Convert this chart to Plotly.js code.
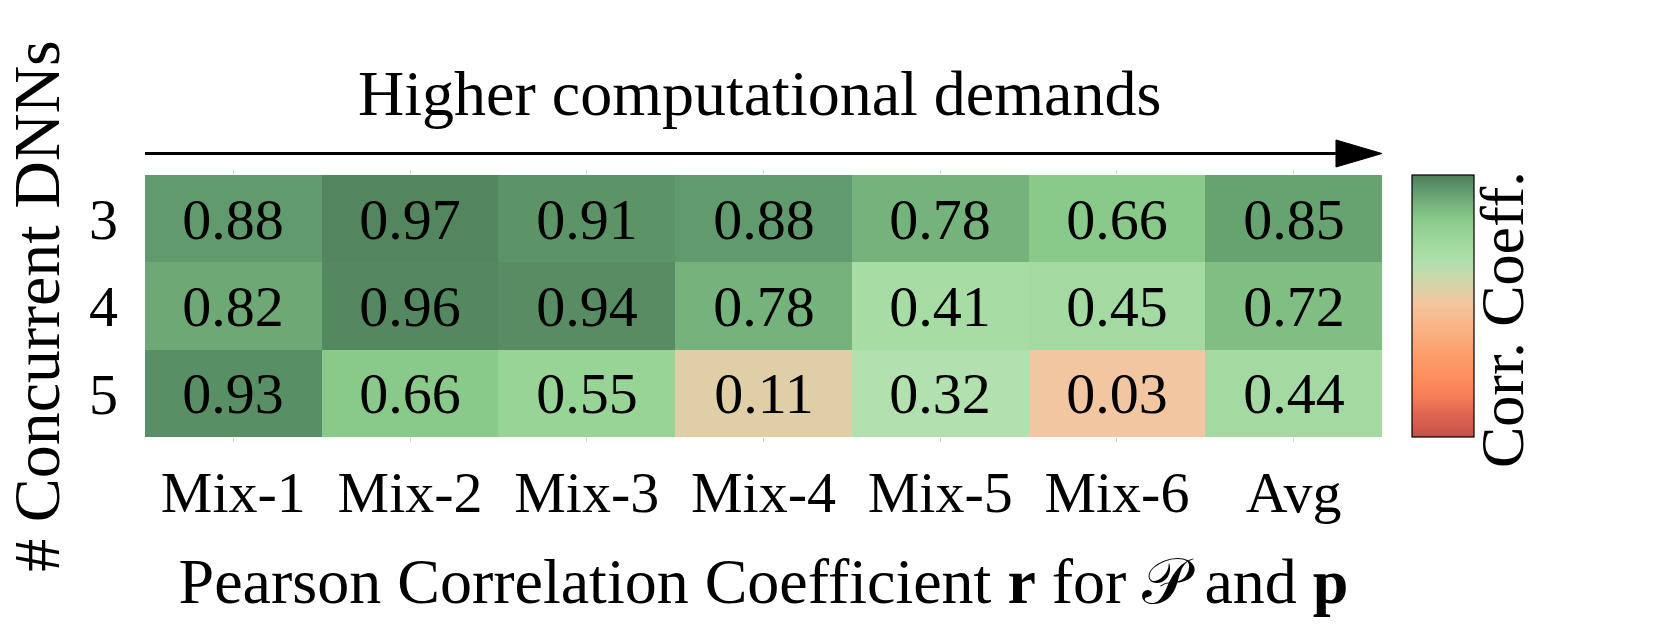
<!DOCTYPE html>
<html>
<head>
<meta charset="utf-8">
<script src="https://cdn.plot.ly/plotly-3.0.1.min.js"></script>
<style>html,body{margin:0;padding:0;background:#fff;}#chart{width:1660px;height:626px;}</style>
</head>
<body>
<div id="chart"></div>
<script>
// ---- data ----
const mixes = ["Mix-1", "Mix-2", "Mix-3", "Mix-4", "Mix-5", "Mix-6", "Avg"];
const dnnCounts = ["3", "4", "5"];
const row3 = [0.88, 0.97, 0.91, 0.88, 0.78, 0.66, 0.85];
const row4 = [0.82, 0.96, 0.94, 0.78, 0.41, 0.45, 0.72];
const row5 = [0.93, 0.66, 0.55, 0.11, 0.32, 0.03, 0.44];
const corrValues = [row3, row4, row5];

const colorscale = [
  [0.00, "#c4524a"],
  [0.08, "#dc6450"],
  [0.15, "#f47c56"],
  [0.22, "#fd8d5c"],
  [0.32, "#fca06c"],
  [0.42, "#f9b486"],
  [0.50, "#f4c49c"],
  [0.515, "#f2c6a0"],
  [0.555, "#e0cfa6"],
  [0.62, "#c4dbac"],
  [0.66, "#b2e0ae"],
  [0.705, "#a8dca5"],
  [0.78, "#96d395"],
  [0.83, "#89ca8a"],
  [0.89, "#76b27b"],
  [0.94, "#619b6d"],
  [1.00, "#4e7e5a"]
];

const serif = "Liberation Serif, Times New Roman, serif";

const trace = {
  type: "heatmap",
  x: mixes,
  y: dnnCounts,
  z: corrValues,
  zmin: -1,
  zmax: 1,
  colorscale: colorscale,
  texttemplate: "%{z:.2f}",
  textfont: {family: serif, size: 58, color: "#000"},
  xgap: 0, ygap: 0,
  hoverinfo: "x+y+z",
  colorbar: {
    thickness: 62,
    thicknessmode: "pixels",
    len: 1.0,
    lenmode: "fraction",
    x: 1.0243,
    xanchor: "left",
    y: 0.5,
    yanchor: "middle",
    outlinewidth: 1.2,
    outlinecolor: "#000",
    showticklabels: false,
    ticks: "",
    xpad: 0,
    ypad: 0
  }
};

const layout = {
  width: 1660,
  height: 626,
  margin: {l: 145, r: 278, t: 175, b: 189},
  paper_bgcolor: "#fff",
  plot_bgcolor: "#fff",
  font: {family: serif, color: "#000", size: 58},
  xaxis: {
    type: "category",
    ticks: "outside",
    ticklen: 4,
    tickcolor: "#d0d0d0",
    mirror: "ticks",
    showline: false,
    showgrid: false,
    zeroline: false,
    tickfont: {family: serif, size: 58},
    ticklabelstandoff: 0,
    title: {
      text: "Pearson Correlation Coefficient <b>r</b> for 𝒫 and <b>p</b>",
      font: {family: serif, size: 64},
      standoff: 34
    }
  },
  yaxis: {
    type: "category",
    autorange: "reversed",
    ticks: "",
    showline: false,
    showgrid: false,
    zeroline: false,
    tickfont: {family: serif, size: 58},
    ticklabelstandoff: 26,
    title: {
      text: "# Concurrent DNNs",
      font: {family: serif, size: 66},
      standoff: 10
    }
  },
  annotations: [
    {
      xref: "paper", yref: "paper",
      x: 0.497, y: 1.31,
      xanchor: "center", yanchor: "middle",
      text: "Higher computational demands",
      showarrow: false,
      font: {family: serif, size: 64, color: "#000"}
    },
    {
      xref: "paper", yref: "paper",
      x: 1.097, y: 0.45,
      xanchor: "center", yanchor: "middle",
      text: "Corr. Coeff.",
      textangle: -90,
      showarrow: false,
      font: {family: serif, size: 62, color: "#000"}
    }
  ],
  shapes: [
    {
      type: "line", xref: "paper", yref: "paper",
      x0: 0, x1: 0.965, y0: 1.082, y1: 1.082,
      line: {color: "#000", width: 3}
    },
    {
      type: "path", xref: "paper", yref: "paper",
      path: "M 0.9628 1.1336 L 1.0 1.082 L 0.9628 1.0305 Z",
      fillcolor: "#000",
      line: {color: "#000", width: 1}
    }
  ]
};

Plotly.newPlot("chart", [trace], layout, {displayModeBar: false, staticPlot: true});
</script>
</body>
</html>
